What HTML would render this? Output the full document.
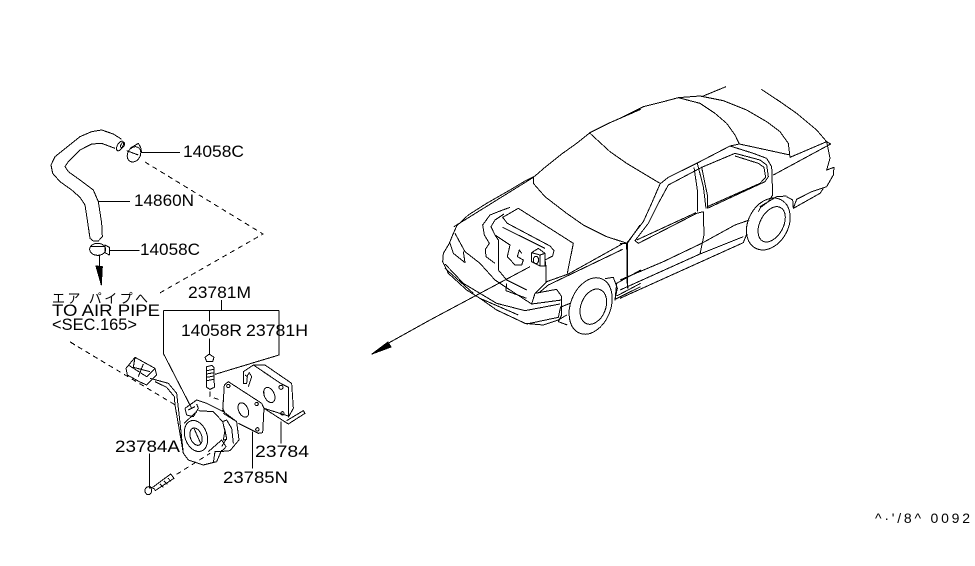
<!DOCTYPE html>
<html><head><meta charset="utf-8"><style>
html,body{margin:0;padding:0;background:#fff;width:975px;height:566px;overflow:hidden}
svg{display:block}
path,ellipse,rect,circle{fill:none;stroke:#000;stroke-width:1;vector-effect:non-scaling-stroke;stroke-linejoin:round;shape-rendering:crispEdges}
.f{fill:#000}
.d{stroke-dasharray:5 4}
text{font-family:"Liberation Sans","Noto Sans CJK JP",sans-serif;font-size:17px;fill:#000;stroke:none}
</style></head><body>
<svg width="975" height="566" viewBox="0 0 975 566" xmlns="http://www.w3.org/2000/svg">
<text x="183" y="157" textLength="61" lengthAdjust="spacingAndGlyphs">14058C</text>
<text x="134" y="206" textLength="60" lengthAdjust="spacingAndGlyphs">14860N</text>
<text x="140" y="255" textLength="60" lengthAdjust="spacingAndGlyphs">14058C</text>
<text x="188" y="298" textLength="63" lengthAdjust="spacingAndGlyphs">23781M</text>
<text x="52" y="303" textLength="96" style="font-size:13px" lengthAdjust="spacing">エア パイプへ</text>
<text x="52" y="316" textLength="108" lengthAdjust="spacingAndGlyphs">TO AIR PIPE</text>
<text x="52" y="330" textLength="85" lengthAdjust="spacingAndGlyphs">&lt;SEC.165&gt;</text>
<text x="181" y="336" textLength="61" lengthAdjust="spacingAndGlyphs">14058R</text>
<text x="246" y="336" textLength="62" lengthAdjust="spacingAndGlyphs">23781H</text>
<text x="115" y="452" textLength="65" lengthAdjust="spacingAndGlyphs">23784A</text>
<text x="255" y="457" textLength="54" lengthAdjust="spacingAndGlyphs">23784</text>
<text x="223" y="483" textLength="65" lengthAdjust="spacingAndGlyphs">23785N</text>
<text x="875" y="523" textLength="95" lengthAdjust="spacing" style="font-size:14px">^·'/8^ 0092</text>

<path class="d" d="M145 162L263 234L158 294"/>
<path class="d" d="M70 342L177 406"/>

<!-- hose group -->
<g transform="translate(30,110) scale(.33333)">
<path d="M275 88L250 72L215 60L185 65L150 80L125 100L75 140L63 165L68 190L90 215L125 240L150 262L165 285L172 330L180 385L190 393L205 393L217 380L215 340L205 275L190 240L150 210L115 185L105 170L115 155L150 120L185 102L215 100L255 115"/>
<ellipse cx="270" cy="108" rx="8" ry="16" transform="rotate(30 270 108)"/>
<ellipse cx="278" cy="105" rx="5" ry="9" transform="rotate(30 278 105)"/>
<ellipse cx="312" cy="133" rx="19" ry="24" transform="rotate(30 312 133)"/>
<path d="M300 115L325 100L332 112L335 127M290 122L325 135M335 127H450"/>
<path d="M205 275H300"/>
<ellipse cx="203" cy="418" rx="24" ry="18"/>
<path d="M180 410H225M225 405L238 412L238 435L225 428ZM238 422H328M208 436V470"/>
<path class="f" d="M198 468L217 470L214 525Z"/>
</g>

<!-- pump group -->
<g transform="translate(40,280) scale(.33333)">
<path d="M370 92H717M545 60V92M508 92V125M717 92V225L525 283M370 92V220L455 385M508 175V225"/>
<path d="M495 232L508 222L522 232L518 245H500Z"/>
<path d="M500 260L516 256L522 262L523 322L510 328L500 322ZM500 272L522 268M500 282L522 278M500 292L522 288M500 302L522 298"/>
<path class="d" d="M510 335V350L550 363"/>
<path d="M90 185L105 195"/>
<!-- connector -->
<path d="M258 265L285 232L345 265L350 285L320 315L298 305L262 285Z"/>
<path d="M265 255L320 290L345 265M285 232L280 262M310 252L295 290M280 262L330 275"/>
<!-- pipe -->
<path d="M330 295L385 310L410 340L418 410L430 520L445 540L490 555L530 545L545 510"/>
<path d="M345 305L380 322L403 350L405 375L425 490L430 520"/>
<!-- pump body -->
<path d="M435 385L470 360L500 370L550 395L590 425L597 480L570 512L540 515"/>
<path d="M435 385L440 405L460 410L475 385L470 372M445 390L465 380"/>
<path d="M475 392L520 395L548 425L560 475L545 500"/>
<ellipse cx="468" cy="468" rx="33" ry="48" transform="rotate(-20 468 468)"/>
<ellipse cx="468" cy="470" rx="17" ry="27" transform="rotate(-20 468 470)"/>
<path d="M462 445L482 490M432 430L470 395"/>
<path d="M550 400L590 425M548 425L560 420L575 445L580 490M555 450L560 478L550 480Z"/>
<path d="M505 515L545 480L558 500L545 515L525 515L520 548"/>
<!-- gasket -->
<path d="M553 315L565 305L665 370L672 385L668 458L655 460L595 430M555 400L548 385Z"/>
<circle cx="565" cy="318" r="5"/><circle cx="650" cy="372" r="5"/><circle cx="652" cy="448" r="5"/>
<ellipse cx="610" cy="390" rx="14" ry="23" transform="rotate(-25 610 390)"/>
<path d="M553 315L548 395"/>
<!-- cover -->
<path d="M610 275L640 255L675 255L755 310L760 385L745 412M640 255L725 312L745 322L745 408L672 385M610 275V310H620L622 290L615 285M620 290L628 278L635 290L625 320"/>
<ellipse cx="688" cy="345" rx="15" ry="24" transform="rotate(-25 688 345)"/>
<circle cx="723" cy="322" r="6"/><circle cx="727" cy="400" r="5"/>
<path d="M672 385L745 432L795 400L790 392L740 422"/>
<path d="M723 425V490M637 455V565M328 520V625"/>
<!-- bolt -->
<ellipse cx="325" cy="632" rx="10" ry="12"/>
<path d="M330 620L345 628M338 622L392 582L402 595L345 632M360 612L370 622M372 603L382 613M384 594L392 604"/>
<path class="d" d="M410 583L510 520"/>
</g>

<!-- car front -->
<g transform="translate(430,80) scale(.33333)">
<path d="M632 88L540 128L480 158L440 190L395 222L345 262L315 288L285 303L240 330L170 370L115 405L80 438L68 465L58 490L40 520L38 545L55 580L110 630L150 655L200 690L285 730L340 735L385 720L410 705"/>
<path d="M310 290V310L345 350L410 400L460 435L530 470L592 490"/>
<path d="M480 160L540 215L590 250"/>
<path d="M72 440L310 292M75 460L105 515L150 550L195 600L240 630L305 672L395 660M60 490L70 520L105 548L100 515"/>
<path d="M45 552L100 610L150 640L200 670L285 692L390 672M45 565L130 640M150 655L265 705M290 732L385 712"/>
<path d="M230 610L228 632L290 655M305 672L315 640L380 628L395 650V705L385 725L412 735M385 712L392 680M395 680L420 670"/>
<!-- engine bay -->
<path d="M315 640L350 605L415 582L580 490H592L630 435M325 640L355 615L578 508M430 490L412 580M430 490L265 385L218 412L232 430L360 498L372 512L368 528L345 540M218 442L345 505"/>
<path d="M240 382L205 395L180 405L158 435L163 465L178 490L166 508L168 530L195 550M222 402L195 420L183 440L195 465L205 480V570L230 600L290 630M195 465L240 495L232 530L255 555L275 555L280 540L262 530L268 510L275 520"/>
<path d="M348 560V608L315 640M345 540L348 560"/>
<path d="M305 518L325 505L345 520V558L330 558L305 545ZM305 518L330 525V558M330 525L345 520"/>
<ellipse cx="318" cy="540" rx="8" ry="11"/>
<path d="M592 490V610L595 625"/>
<!-- wheel -->
<ellipse cx="482" cy="678" rx="60" ry="88" transform="rotate(22 482 678)"/>
<ellipse cx="490" cy="680" rx="37" ry="55" transform="rotate(22 490 680)"/>
<path d="M525 596L550 592L562 625L555 660L560 610L632 570M555 658L632 620M560 648L632 610"/>
<path d="M300 560L0 720"/>
</g>

<path class="f" d="M372 354L388 342L391 347Z"/>
<path d="M385 345L430 320"/>

<!-- car rear -->
<g transform="translate(620,80) scale(.33333)">
<path d="M0 115L70 80L130 65L175 53L240 48L310 62L380 90L440 125L480 155L505 190L510 232"/>
<path d="M175 53L240 70L285 100L320 130L345 165L358 192"/>
<path d="M245 50L318 20M424 28L480 65L530 100L590 150L620 185L630 235L620 270L642 262L640 285L620 320L575 335L530 358L520 385L600 340L610 325"/>
<path d="M20 250L120 310"/>
<path d="M510 232L620 185L632 192L460 285M358 192L510 225M330 198L358 192"/>
<path d="M120 312L145 292L230 250L330 198L400 220L440 235L455 260L458 345L445 365L422 382L415 395"/>
<path d="M145 315L245 262L345 220L420 240L440 255L445 290L435 305L262 385M345 228L415 250L432 262L437 292L420 310L262 380"/>
<path d="M120 312L95 370L70 425L20 490L22 625M145 315L115 370L85 430L45 482L55 490L230 400L250 395"/>
<path d="M50 480L228 398"/>
<path d="M222 262L232 330L232 395M232 250L250 320L258 385M245 262L262 345V385"/>
<path d="M250 395L252 465L240 522M0 490H20M0 510H5"/>
<path d="M0 600L130 545L245 490L345 435L388 420M0 630L240 522L370 470M0 655L370 488L380 462"/>
<ellipse cx="445" cy="432" rx="60" ry="82" transform="rotate(28 445 432)"/>
<ellipse cx="455" cy="433" rx="35" ry="57" transform="rotate(28 455 433)"/>
<path d="M500 350L518 360L520 385M420 380L470 350L500 348"/>
</g>
</svg>
</body></html>
